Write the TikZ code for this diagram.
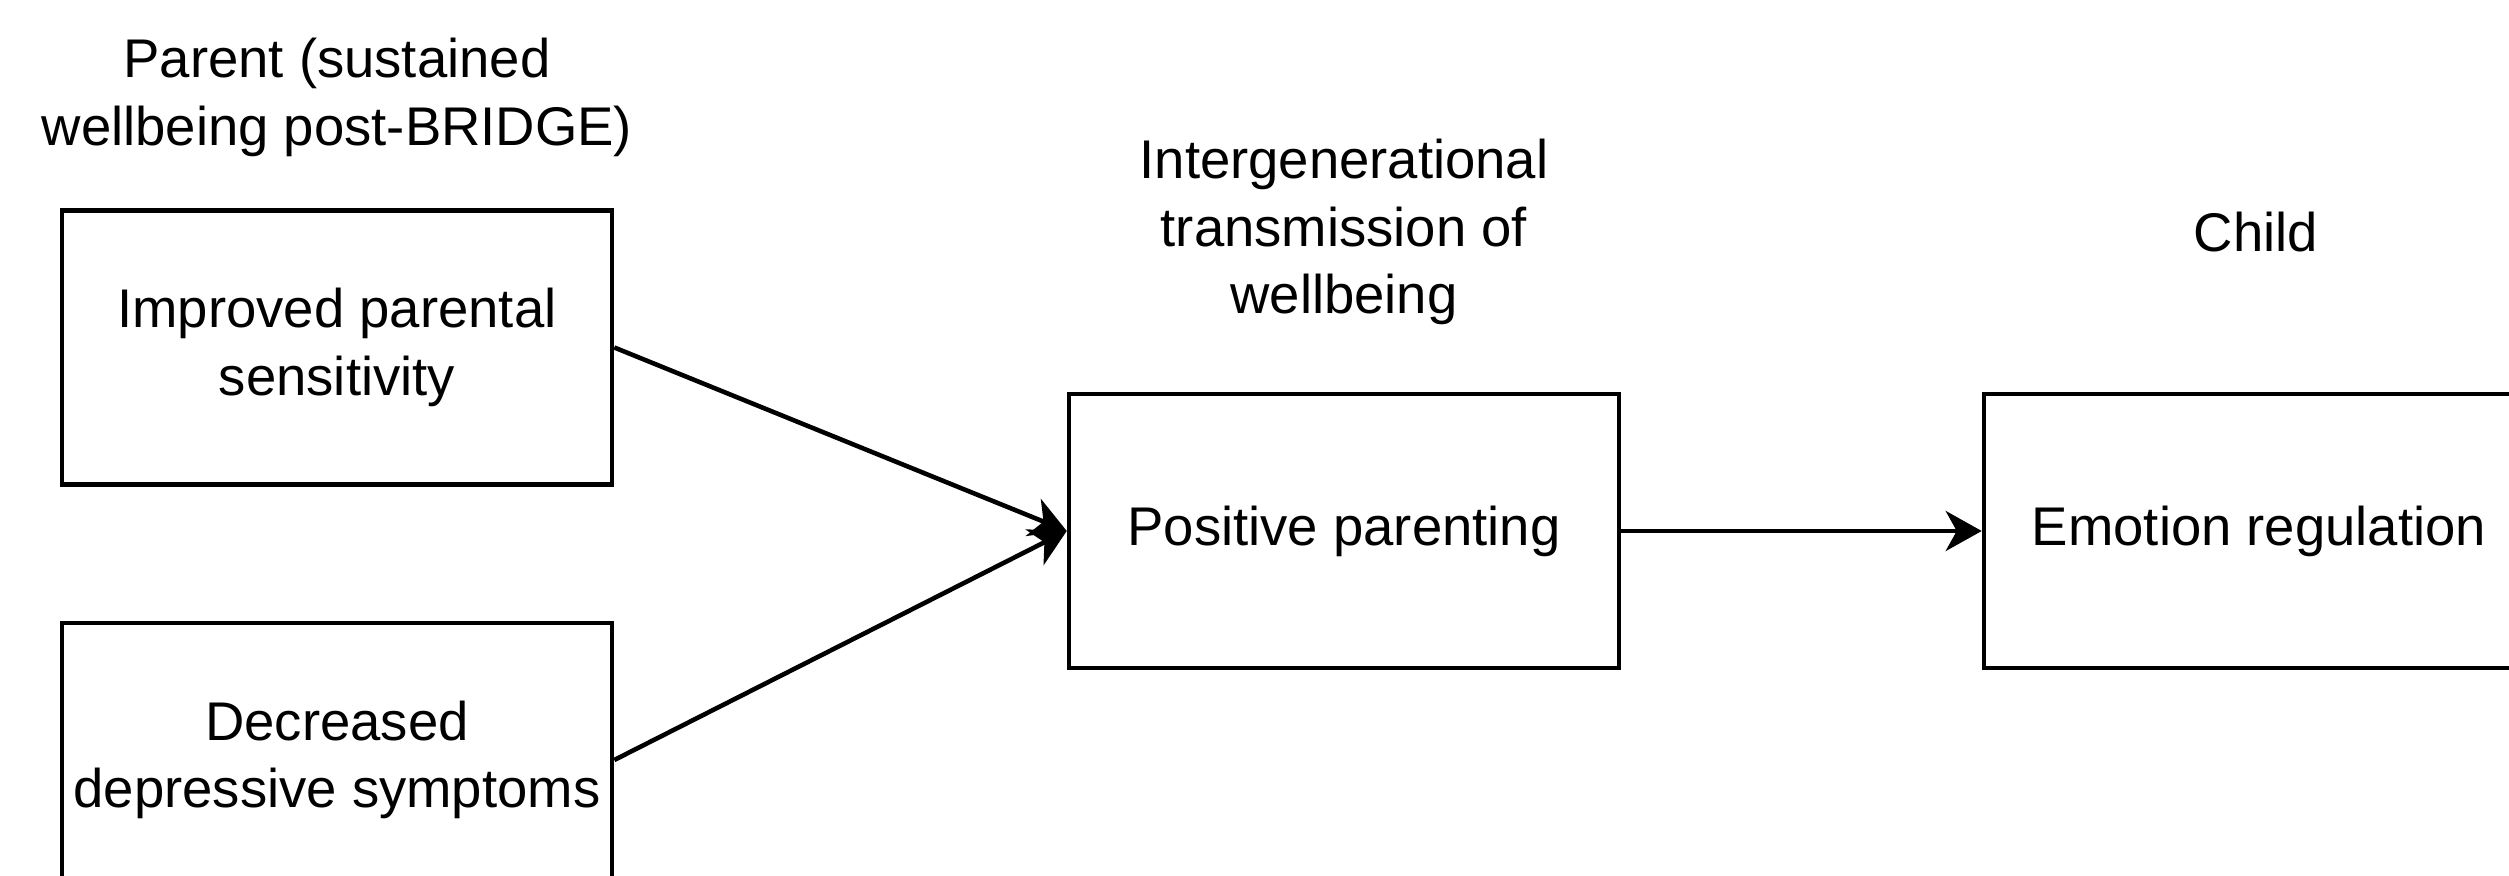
\documentclass[tikz,border=0pt]{standalone}
\usepackage{fontspec}
\setmainfont{Liberation Sans}
\usetikzlibrary{arrows.meta,positioning}
\tikzset{
  basic/.style  = {draw, line width=1.3pt, rectangle, align=center,
                   font=\fontsize{15.5}{19.3}\selectfont},
  box/.style    = {basic, minimum width=5.5cm, minimum height=2.74cm,
                   inner sep=0pt},
  heading/.style = {align=center, inner sep=0pt,
                   font=\fontsize{15.5}{19.3}\selectfont}
}

\begin{document}
\begin{tikzpicture}[
  node distance=2.5cm,
  >={Stealth[length=3.6mm, width=4mm, inset=1.1mm]}]

\useasboundingbox (0,0) rectangle (25.09,-8.76);
\clip (0,0) rectangle (25.09,-8.76);

% parent side
\node[box] (b1) at (3.37,-3.475) {Improved parental\\ sensitivity};
\node[box, below of = b1, node distance=4.125cm] (b2) {Decreased\\ depressive symptoms};

% middle and child
\node[box, right of = b1, node distance=10.07cm, yshift=-1.835cm] (b3) {Positive parenting};
\node[box, right of = b3, node distance=9.15cm] (b4) {Emotion regulation};

% headings above the boxes
\node[heading, above of = b1] (h1) {Parent (sustained\\ wellbeing post-BRIDGE)};
\node[heading, above of = b3, node distance=2.99cm] (h3) {Intergenerational\\ transmission of\\ wellbeing};
\node[heading, above of = b4, node distance=2.99cm, xshift=-0.03cm] (h4) {Child};

\foreach \value in {1,2}
  \draw[->, line width=1.3pt] (b\value.east) -- (b3.west);

\draw[->, line width=1.3pt] (b3) -- (b4);
\end{tikzpicture}
\end{document}
